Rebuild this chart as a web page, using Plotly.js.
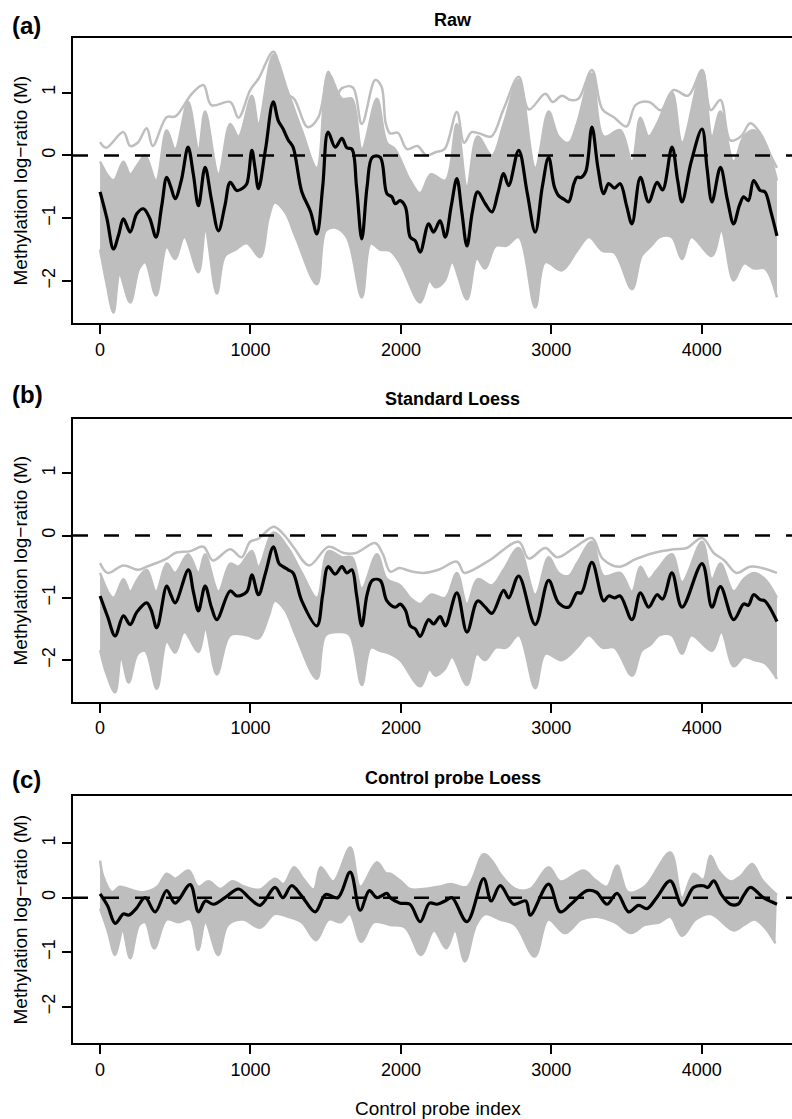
<!DOCTYPE html>
<html>
<head>
<meta charset="utf-8">
<script src="https://cdn.plot.ly/plotly-3.0.1.min.js"></script>
<style>html,body{margin:0;padding:0;background:#fff;overflow:hidden}</style>
</head>
<body>
<div id="chart"></div>
<script>
// ---------- tick labels ----------
const xTickVals = [0, 1000, 2000, 3000, 4000];
const yTickVals = [-2, -1, 0, 1];
const yTickText = ['\u22122', '\u22121', '0', '1'];
const panelTitles = ['Raw', 'Standard Loess', 'Control probe Loess'];
const panelLetters = ['(a)', '(b)', '(c)'];

// ---------- (a) Raw ----------
const rawMean = [[0,-0.58],[45,-1.0],[89,-1.49],[125,-1.25],[155,-1.01],[200,-1.22],[244,-0.93],[288,-0.85],[330,-1.0],[372,-1.30],[410,-0.8],[443,-0.35],[470,-0.5],[499,-0.69],[540,-0.4],[585,0.13],[620,-0.3],[654,-0.80],[698,-0.19],[740,-0.7],[787,-1.20],[830,-0.8],[865,-0.43],[909,-0.56],[950,-0.52],[976,-0.45],[1009,0.08],[1030,-0.2],[1053,-0.53],[1100,0.1],[1151,0.85],[1185,0.55],[1217,0.42],[1250,0.25],[1283,0.13],[1341,-0.58],[1400,-0.9],[1441,-1.25],[1480,-0.5],[1516,0.37],[1563,0.13],[1608,0.27],[1640,0.12],[1674,0.1],[1705,-0.5],[1740,-1.33],[1775,-0.5],[1810,-0.03],[1862,-0.03],[1907,-0.61],[1940,-0.66],[1962,-0.77],[1995,-0.72],[2030,-0.82],[2062,-1.30],[2095,-1.36],[2128,-1.54],[2184,-1.09],[2217,-1.22],[2261,-1.04],[2295,-1.30],[2335,-0.8],[2372,-0.37],[2405,-0.9],[2439,-1.44],[2475,-0.9],[2510,-0.58],[2561,-0.77],[2605,-0.90],[2645,-0.6],[2683,-0.29],[2716,-0.48],[2783,0.08],[2840,-0.6],[2893,-1.22],[2940,-0.5],[2982,-0.03],[3020,-0.5],[3048,-0.64],[3085,-0.7],[3115,-0.74],[3150,-0.45],[3170,-0.35],[3200,-0.35],[3230,-0.25],[3270,0.45],[3310,-0.2],[3348,-0.61],[3381,-0.45],[3420,-0.52],[3458,-0.45],[3500,-0.8],[3536,-1.09],[3592,-0.35],[3647,-0.74],[3703,-0.43],[3740,-0.55],[3802,0.13],[3840,-0.4],[3869,-0.74],[3930,-0.1],[4002,0.42],[4035,-0.2],[4068,-0.74],[4124,-0.19],[4170,-0.7],[4212,-1.09],[4250,-0.8],[4279,-0.66],[4310,-0.72],[4345,-0.40],[4389,-0.56],[4420,-0.58],[4460,-0.9],[4500,-1.28]];
const rawUpper = [[0,0.21],[40,0.12],[155,0.37],[200,0.15],[250,0.2],[310,0.43],[350,0.15],[443,0.61],[500,0.62],[610,0.98],[687,1.12],[740,0.8],[865,0.85],[920,0.6],[998,1.04],[1053,1.22],[1153,1.65],[1230,1.0],[1290,0.9],[1380,0.45],[1450,0.6],[1518,1.33],[1560,0.9],[1608,1.07],[1680,1.08],[1740,0.5],[1829,1.2],[1870,1.1],[1900,0.5],[1929,0.35],[1980,0.36],[2040,0.1],[2110,0.15],[2170,0.0],[2230,0.05],[2290,0.1],[2372,0.69],[2420,0.2],[2470,0.37],[2520,0.35],[2600,0.3],[2683,0.74],[2783,1.25],[2850,0.73],[2960,0.98],[3010,0.85],[3070,0.95],[3130,0.88],[3180,0.9],[3270,1.36],[3340,0.73],[3420,0.6],[3500,0.46],[3560,0.8],[3650,0.85],[3730,0.72],[3813,1.04],[3910,0.95],[4002,1.36],[4060,0.72],[4124,0.88],[4190,0.24],[4260,0.3],[4323,0.51],[4390,0.35],[4450,0.04],[4500,-0.2]];
const rawBandTop = [[0,-0.1],[89,-0.4],[155,-0.1],[200,-0.3],[250,-0.15],[300,0.0],[372,-0.4],[443,0.4],[499,0.1],[585,0.85],[654,0.1],[698,0.7],[787,-0.3],[865,0.5],[920,0.3],[1009,0.95],[1053,0.5],[1153,1.6],[1250,1.0],[1341,0.4],[1441,-0.2],[1518,1.3],[1608,0.9],[1674,0.9],[1740,0.1],[1840,0.9],[1907,0.2],[1960,0.1],[2062,-0.4],[2128,-0.6],[2200,-0.3],[2295,-0.4],[2372,0.5],[2439,-0.5],[2510,0.3],[2605,0.0],[2683,0.5],[2783,1.2],[2893,-0.2],[2982,0.7],[3048,0.3],[3115,0.2],[3170,0.5],[3270,1.3],[3348,0.3],[3458,0.4],[3536,-0.1],[3592,0.6],[3647,0.3],[3703,0.5],[3802,1.0],[3869,0.2],[4002,1.35],[4068,0.3],[4124,0.7],[4212,-0.1],[4279,0.3],[4345,0.4],[4420,0.2],[4500,-0.4]];
const rawBandBottom = [[0,-1.5],[40,-2.0],[89,-2.5],[130,-1.9],[200,-2.34],[260,-1.8],[300,-1.7],[372,-2.23],[443,-1.46],[499,-1.65],[560,-1.3],[654,-1.86],[700,-1.2],[776,-2.2],[830,-1.6],[900,-1.5],[976,-1.4],[1064,-1.62],[1120,-1.0],[1160,-0.75],[1230,-0.9],[1300,-1.3],[1441,-2.05],[1500,-1.2],[1560,-1.15],[1640,-1.3],[1740,-2.26],[1800,-1.4],[1860,-1.5],[1929,-1.52],[1995,-1.72],[2128,-2.34],[2190,-2.0],[2230,-2.1],[2290,-2.0],[2340,-1.7],[2439,-2.29],[2505,-1.64],[2560,-1.8],[2630,-1.44],[2700,-1.44],[2783,-1.3],[2893,-2.42],[2960,-1.7],[3070,-1.83],[3170,-1.52],[3250,-1.3],[3340,-1.52],[3420,-1.55],[3536,-2.13],[3600,-1.6],[3660,-1.45],[3720,-1.3],[3800,-1.3],[3869,-1.65],[3930,-1.3],[4068,-1.6],[4130,-1.2],[4212,-1.99],[4280,-1.72],[4350,-1.8],[4420,-1.8],[4500,-2.26]];

// ---------- (b) Standard Loess ----------
const stdMean = [[0,-0.97],[50,-1.3],[100,-1.61],[155,-1.29],[200,-1.43],[244,-1.23],[310,-1.08],[340,-1.2],[377,-1.48],[443,-0.81],[470,-0.95],[499,-1.08],[587,-0.55],[620,-0.9],[654,-1.21],[698,-0.81],[740,-1.15],[776,-1.35],[865,-0.89],[909,-0.97],[976,-0.9],[1009,-0.63],[1053,-0.95],[1100,-0.6],[1153,-0.18],[1190,-0.45],[1217,-0.5],[1250,-0.55],[1283,-0.6],[1341,-1.05],[1441,-1.45],[1480,-0.95],[1516,-0.5],[1563,-0.62],[1608,-0.5],[1640,-0.6],[1674,-0.55],[1705,-0.95],[1740,-1.45],[1775,-0.95],[1810,-0.72],[1862,-0.72],[1907,-1.05],[1962,-1.15],[1995,-1.1],[2030,-1.2],[2062,-1.45],[2095,-1.5],[2128,-1.62],[2184,-1.35],[2217,-1.42],[2261,-1.3],[2295,-1.45],[2372,-0.92],[2439,-1.55],[2510,-1.05],[2561,-1.15],[2605,-1.25],[2683,-0.88],[2716,-1.0],[2783,-0.65],[2893,-1.43],[2982,-0.72],[3048,-1.08],[3115,-1.15],[3170,-0.92],[3200,-0.92],[3270,-0.43],[3348,-1.05],[3381,-0.97],[3420,-1.0],[3458,-0.97],[3536,-1.35],[3592,-0.92],[3647,-1.15],[3703,-0.95],[3740,-1.02],[3802,-0.6],[3869,-1.15],[4002,-0.45],[4068,-1.15],[4124,-0.82],[4212,-1.35],[4279,-1.1],[4310,-1.12],[4345,-0.95],[4389,-1.03],[4420,-1.05],[4500,-1.38]];
const stdUpper = [[0,-0.44],[50,-0.6],[155,-0.48],[250,-0.55],[310,-0.5],[443,-0.37],[499,-0.28],[600,-0.25],[687,-0.18],[750,-0.4],[865,-0.22],[940,-0.35],[998,-0.1],[1053,-0.05],[1153,0.14],[1220,0.02],[1290,-0.2],[1390,-0.48],[1518,-0.18],[1620,-0.28],[1700,-0.28],[1829,-0.12],[1880,-0.3],[1929,-0.58],[1990,-0.52],[2060,-0.57],[2150,-0.6],[2250,-0.55],[2372,-0.42],[2420,-0.6],[2480,-0.55],[2600,-0.38],[2783,-0.1],[2850,-0.37],[2960,-0.2],[3040,-0.35],[3150,-0.2],[3270,-0.04],[3340,-0.37],[3450,-0.5],[3560,-0.38],[3680,-0.28],[3813,-0.22],[3900,-0.2],[4002,-0.04],[4080,-0.28],[4150,-0.4],[4230,-0.6],[4320,-0.5],[4400,-0.52],[4500,-0.6]];
const stdBandTop = [[0,-0.6],[89,-1.0],[155,-0.7],[200,-0.9],[250,-0.7],[310,-0.55],[372,-0.9],[443,-0.45],[499,-0.6],[585,-0.3],[654,-0.6],[698,-0.3],[787,-0.9],[865,-0.45],[920,-0.5],[1009,-0.25],[1053,-0.5],[1153,0.05],[1250,-0.2],[1341,-0.6],[1441,-1.0],[1518,-0.25],[1608,-0.35],[1674,-0.35],[1740,-0.85],[1840,-0.3],[1907,-0.7],[1995,-0.8],[2062,-1.0],[2128,-1.1],[2200,-0.95],[2295,-1.0],[2372,-0.6],[2439,-1.1],[2510,-0.7],[2605,-0.8],[2683,-0.55],[2783,-0.2],[2893,-0.95],[2982,-0.35],[3048,-0.6],[3115,-0.65],[3170,-0.45],[3270,-0.1],[3348,-0.65],[3458,-0.6],[3536,-0.9],[3592,-0.5],[3647,-0.7],[3703,-0.55],[3802,-0.3],[3869,-0.75],[4002,-0.1],[4068,-0.7],[4124,-0.45],[4212,-0.9],[4279,-0.7],[4345,-0.6],[4420,-0.7],[4500,-1.0]];
const stdBandBottom = [[0,-1.84],[40,-2.2],[100,-2.52],[140,-1.96],[190,-2.36],[250,-1.9],[300,-1.85],[377,-2.46],[443,-1.7],[499,-1.88],[560,-1.55],[654,-1.87],[700,-1.5],[776,-2.23],[865,-1.6],[976,-1.6],[1053,-1.65],[1120,-1.3],[1160,-1.05],[1230,-1.2],[1300,-1.6],[1441,-2.3],[1500,-1.6],[1600,-1.55],[1660,-1.6],[1740,-2.4],[1800,-1.8],[1860,-1.85],[1929,-1.9],[1995,-2.0],[2128,-2.42],[2190,-2.15],[2230,-2.25],[2290,-2.15],[2340,-1.95],[2439,-2.4],[2505,-1.9],[2560,-2.0],[2630,-1.8],[2700,-1.8],[2783,-1.6],[2893,-2.45],[2960,-1.9],[3070,-2.0],[3170,-1.8],[3250,-1.6],[3340,-1.8],[3420,-1.8],[3536,-2.25],[3600,-1.85],[3660,-1.75],[3720,-1.6],[3800,-1.6],[3869,-1.9],[3930,-1.6],[4068,-1.85],[4130,-1.55],[4212,-2.1],[4280,-1.95],[4350,-2.0],[4420,-2.05],[4500,-2.3]];

// ---------- (c) Control probe Loess ----------
const ctrlMean = [[0,0.07],[50,-0.15],[100,-0.47],[155,-0.3],[190,-0.32],[240,-0.2],[300,0.0],[366,-0.26],[443,0.13],[499,-0.1],[599,0.24],[654,-0.26],[700,-0.06],[754,-0.12],[830,0.0],[921,0.16],[990,0.0],[1064,-0.14],[1163,0.19],[1215,0.0],[1273,0.22],[1341,0.03],[1430,-0.26],[1500,0.06],[1580,0.0],[1663,0.47],[1729,-0.23],[1790,0.13],[1840,0.0],[1907,0.08],[1929,0.0],[1995,-0.1],[2060,-0.12],[2128,-0.44],[2190,-0.1],[2240,-0.12],[2300,-0.05],[2340,0.0],[2439,-0.44],[2550,0.35],[2600,-0.06],[2660,0.22],[2749,-0.12],[2830,-0.06],[2860,-0.32],[2982,0.25],[3060,-0.26],[3130,-0.12],[3237,0.13],[3300,0.1],[3370,-0.12],[3437,0.08],[3514,-0.26],[3580,-0.14],[3636,-0.2],[3700,0.0],[3791,0.31],[3869,-0.14],[3946,0.19],[4010,0.22],[4040,0.19],[4080,0.31],[4130,0.06],[4190,-0.12],[4240,-0.12],[4280,0.05],[4324,0.19],[4410,0.0],[4500,-0.12]];
const ctrlUpper = [[0,0.68],[20,0.4],[80,0.1],[130,0.2],[200,0.15],[288,0.1],[380,0.2],[443,0.44],[500,0.35],[588,0.5],[654,0.2],[720,0.3],[800,0.16],[880,0.3],[960,0.2],[1064,0.15],[1163,0.35],[1220,0.25],[1290,0.56],[1350,0.35],[1420,0.15],[1467,0.56],[1550,0.3],[1663,0.92],[1730,0.2],[1840,0.65],[1900,0.45],[1929,0.44],[2000,0.3],[2060,0.16],[2150,0.16],[2250,0.2],[2330,0.25],[2440,0.2],[2550,0.8],[2610,0.66],[2660,0.44],[2760,0.16],[2860,0.16],[2982,0.56],[3060,0.3],[3215,0.5],[3290,0.33],[3370,0.2],[3437,0.59],[3510,0.1],[3620,0.2],[3791,0.83],[3869,0.0],[3946,0.44],[4010,0.33],[4058,0.77],[4110,0.5],[4190,0.3],[4260,0.4],[4335,0.62],[4400,0.33],[4500,0.05]];
const ctrlLower = [[0,-0.2],[50,-0.6],[100,-1.05],[150,-0.6],[200,-1.11],[260,-0.5],[300,-0.45],[360,-0.93],[443,-0.4],[520,-0.45],[600,-0.4],[652,-0.96],[700,-0.45],[785,-1.05],[850,-0.5],[950,-0.4],[1064,-0.55],[1160,-0.3],[1250,-0.35],[1341,-0.45],[1435,-0.78],[1520,-0.4],[1600,-0.45],[1660,-0.3],[1736,-0.81],[1820,-0.45],[1929,-0.5],[2030,-0.55],[2133,-1.05],[2220,-0.6],[2301,-0.93],[2360,-0.6],[2425,-1.17],[2500,-0.5],[2560,-0.3],[2660,-0.4],[2760,-0.5],[2889,-1.08],[2980,-0.4],[3091,-0.65],[3200,-0.4],[3300,-0.35],[3420,-0.45],[3532,-0.65],[3620,-0.5],[3720,-0.45],[3791,-0.35],[3869,-0.7],[3960,-0.4],[4060,-0.3],[4212,-0.6],[4280,-0.5],[4350,-0.4],[4420,-0.55],[4490,-0.84]];

// ---------- build ----------
const GRAY = '#bebebe';
const xs = a => a.map(p => p[0]);
const ys = a => a.map(p => p[1]);

function panelTraces(idx, top, bottom, upper, mean) {
  const xa = idx === 1 ? 'x' : 'x' + idx;
  const ya = idx === 1 ? 'y' : 'y' + idx;
  const t = [];
  t.push({x: xs(top), y: ys(top), xaxis: xa, yaxis: ya, mode: 'lines',
          line: {color: GRAY, width: 2.5, shape: 'spline', smoothing: 1}, hoverinfo: 'skip'});
  t.push({x: xs(bottom), y: ys(bottom), xaxis: xa, yaxis: ya, mode: 'lines', fill: 'tonexty',
          fillcolor: GRAY, line: {color: GRAY, width: 2.5, shape: 'spline', smoothing: 1}, hoverinfo: 'skip'});
  if (upper) {
    t.push({x: xs(upper), y: ys(upper), xaxis: xa, yaxis: ya, mode: 'lines',
            line: {color: GRAY, width: 2.5, shape: 'spline', smoothing: 1}, hoverinfo: 'skip'});
  }
  t.push({x: xs(mean), y: ys(mean), xaxis: xa, yaxis: ya, mode: 'lines',
          line: {color: '#000', width: 3.2, shape: 'spline', smoothing: 1}});
  return t;
}

const data = [].concat(
  panelTraces(1, rawBandTop, rawBandBottom, rawUpper, rawMean),
  panelTraces(2, stdBandTop, stdBandBottom, stdUpper, stdMean),
  panelTraces(3, ctrlUpper, ctrlLower, null, ctrlMean)
);

const FONT = 'Liberation Sans, Arial, Helvetica, sans-serif';
function xAxis(anchor) {
  return {anchor: anchor, range: [-180, 4600], tickvals: xTickVals, ticks: 'outside',
          ticklen: 9, tickwidth: 2, tickcolor: '#000', showline: true, linewidth: 2,
          linecolor: '#000', mirror: true, showgrid: false, zeroline: false,
          tickfont: {family: FONT, size: 18, color: '#000'}, fixedrange: true};
}
function yAxis(anchor, domain) {
  return {anchor: anchor, domain: domain, range: [-2.668, 1.868], tickvals: yTickVals,
          ticktext: yTickText, tickangle: -90, ticks: 'outside', ticklen: 9, tickwidth: 2,
          tickcolor: '#000', showline: true, linewidth: 2, linecolor: '#000', mirror: false,
          showgrid: false, zeroline: false, tickfont: {family: FONT, size: 18, color: '#000'},
          fixedrange: true};
}

const domains = [[0.7164, 1], [0.3396, 0.6207], [0, 0.2458]];
const titleY = [1.0179, 0.6408, 0.2637];
const letterY = [1.0129, 0.6448, 0.2617];

const annotations = [];
const shapes = [];
for (let i = 0; i < 3; i++) {
  annotations.push({text: '<b>' + panelTitles[i] + '</b>', xref: 'paper', yref: 'paper',
    x: 0.5285, y: titleY[i], xanchor: 'center', yanchor: 'middle', showarrow: false,
    font: {family: FONT, size: 18, color: '#000'}});
  annotations.push({text: '<b>' + panelLetters[i] + '</b>', xref: 'paper', yref: 'paper',
    x: -0.0876, y: letterY[i], xanchor: 'left', yanchor: 'middle', showarrow: false,
    font: {family: FONT, size: 24, color: '#000'}});
  annotations.push({text: 'Methylation log\u2212ratio (M)', xref: 'paper', yref: 'paper',
    x: -0.0737, y: (domains[i][0] + domains[i][1]) / 2, xanchor: 'center', yanchor: 'middle',
    textangle: -90, showarrow: false, font: {family: FONT, size: 19, color: '#000'}});
  const ya = i === 0 ? 'y' : 'y' + (i + 1);
  shapes.push({type: 'line', xref: 'paper', yref: ya, x0: 0, x1: 1, y0: 0, y1: 0,
    line: {color: '#000', width: 2.5, dash: '15px,16px'}, layer: 'above'});
}
annotations.push({text: 'Control probe index', xref: 'paper', yref: 'paper',
  x: 0.5077, y: -0.0647, xanchor: 'center', yanchor: 'middle', showarrow: false,
  font: {family: FONT, size: 19, color: '#000'}});

const layout = {
  width: 792, height: 1119,
  margin: {l: 73, r: 0, t: 38, b: 76},
  paper_bgcolor: '#fff', plot_bgcolor: '#fff',
  showlegend: false,
  xaxis: xAxis('y'), xaxis2: xAxis('y2'), xaxis3: xAxis('y3'),
  yaxis: yAxis('x', domains[0]), yaxis2: yAxis('x2', domains[1]), yaxis3: yAxis('x3', domains[2]),
  annotations: annotations, shapes: shapes,
  font: {family: FONT, color: '#000'}
};

Plotly.newPlot('chart', data, layout, {displayModeBar: false, staticPlot: true});
</script>
</body>
</html>
